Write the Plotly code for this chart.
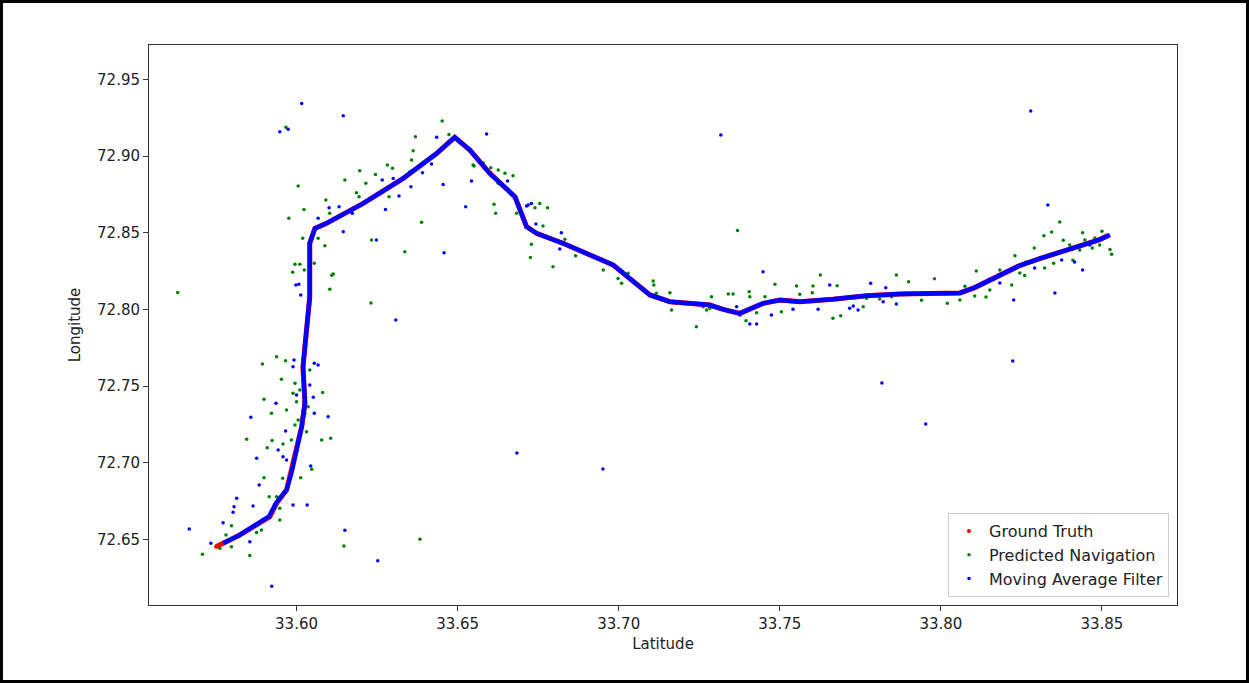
import plotly.graph_objects as go

# ---------------- data (lat, lon) ----------------
gt_lat = [33.5750, 33.5824, 33.5917, 33.5938, 33.5969, 33.5984, 33.6000, 33.6016, 33.6026, 33.6022,
          33.6020, 33.6025, 33.6041, 33.6041, 33.6057, 33.6093, 33.6207, 33.6331, 33.6435, 33.6491,
          33.6538, 33.6600, 33.6678, 33.6714, 33.6745, 33.6827, 33.6983, 33.7097, 33.7159, 33.7283,
          33.7324, 33.7376, 33.7448, 33.7500, 33.7562, 33.7665, 33.7769, 33.7873, 33.8059, 33.8105,
          33.8152, 33.8198, 33.8245, 33.8307, 33.8369, 33.8431, 33.8493, 33.8518]
gt_lon = [72.6452, 72.6529, 72.6648, 72.6735, 72.6822, 72.6953, 72.7083, 72.7235, 72.7389, 72.7496,
          72.7626, 72.7735, 72.8082, 72.8431, 72.8528, 72.8561, 72.8691, 72.8854, 72.9017, 72.9122,
          72.9039, 72.8887, 72.8734, 72.8539, 72.8496, 72.8431, 72.8289, 72.8094, 72.8050, 72.8028,
          72.8000, 72.7974, 72.8039, 72.8061, 72.8050, 72.8066, 72.8089, 72.8100, 72.8107, 72.8142,
          72.8188, 72.8240, 72.8286, 72.8331, 72.8370, 72.8410, 72.8455, 72.8481]

ma_path_lat = [33.5772, 33.5824, 33.5915, 33.5936, 33.5969, 33.5986, 33.6000, 33.6016, 33.6026, 33.6022,
               33.6020, 33.6025, 33.6041, 33.6041, 33.6057, 33.6093, 33.6207, 33.6331, 33.6435, 33.6491,
               33.6538, 33.6600, 33.6678, 33.6714, 33.6745, 33.6827, 33.6983, 33.7097, 33.7159, 33.7283,
               33.7324, 33.7376, 33.7448, 33.7500, 33.7562, 33.7665, 33.7769, 33.7873, 33.8059, 33.8105,
               33.8152, 33.8198, 33.8245, 33.8307, 33.8369, 33.8431, 33.8493, 33.8525]
ma_path_lon = [72.6475, 72.6529, 72.6650, 72.6735, 72.6822, 72.6950, 72.7083, 72.7235, 72.7389, 72.7496,
               72.7626, 72.7735, 72.8082, 72.8431, 72.8528, 72.8561, 72.8691, 72.8854, 72.9017, 72.9122,
               72.9039, 72.8887, 72.8734, 72.8539, 72.8496, 72.8431, 72.8289, 72.8094, 72.8050, 72.8028,
               72.8000, 72.7974, 72.8039, 72.8061, 72.8050, 72.8066, 72.8089, 72.8100, 72.8107, 72.8142,
               72.8188, 72.8240, 72.8286, 72.8331, 72.8370, 72.8410, 72.8455, 72.8485]

pred_lat = [33.5938, 33.5894, 33.5966, 33.5953, 33.5899, 33.5995, 33.5989, 33.6000, 33.5969, 33.5922,
            33.5845, 33.5909, 33.5924, 33.6078, 33.6106, 33.6081, 33.6041, 33.6031, 33.5899, 33.5957,
            33.6013, 33.6047, 33.5915, 33.5948, 33.5798, 33.5876, 33.5708, 33.5855, 33.5762, 33.5798,
            33.5781, 33.5891, 33.5938, 33.5948, 33.5984, 33.5995, 33.5958, 33.6005, 33.6026, 33.6036,
            33.6010, 33.5967, 33.6452, 33.6369, 33.6473, 33.6362, 33.6196, 33.6150, 33.6282, 33.6298,
            33.6005, 33.6023, 33.5976, 33.6091, 33.6215, 33.6245, 33.6186, 33.6194, 33.6287, 33.6388,
            33.6233, 33.6336, 33.6088, 33.6103, 33.6019, 33.6067, 33.5995, 33.6010, 33.5988, 33.6024,
            33.6055, 33.6114, 33.6103, 33.6109, 33.6551, 33.6579, 33.6603, 33.6626, 33.6647, 33.6672,
            33.6626, 33.6613, 33.6618, 33.6683, 33.6357, 33.6352, 33.6740, 33.6755, 33.6779, 33.6765,
            33.6729, 33.6726, 33.6796, 33.6833, 33.6866, 33.6952, 33.6998, 33.7009, 33.7029, 33.7107,
            33.7109, 33.7117, 33.7159, 33.7164, 33.7241, 33.7288, 33.7340, 33.7355, 33.7369, 33.7405,
            33.7407, 33.7395, 33.7428, 33.7454, 33.7485, 33.7505, 33.7552, 33.7562, 33.7601, 33.7603,
            33.7626, 33.7678, 33.7665, 33.7689, 33.7810, 33.7847, 33.7862, 33.7273, 33.7262, 33.7283,
            33.7759, 33.7769, 33.6548, 33.5631, 33.6231, 33.6147, 33.6383,
            33.7900, 33.7940, 33.7980, 33.8020, 33.8075, 33.8110, 33.8140, 33.8180, 33.8230, 33.8260,
            33.8290, 33.8320, 33.8350, 33.8380, 33.8410, 33.8440, 33.8470, 33.8500, 33.8525, 33.8530,
            33.8059, 33.8105, 33.8152, 33.8183, 33.8220, 33.8245, 33.8264, 33.8307, 33.8322, 33.8344,
            33.8369, 33.8400, 33.8431, 33.8447, 33.8478, 33.8493]
pred_lon = [72.7691, 72.7644, 72.7665, 72.7544, 72.7413, 72.7518, 72.7453, 72.7398, 72.7344, 72.7322,
            72.7153, 72.7098, 72.7144, 72.7148, 72.7159, 72.7457, 72.7605, 72.7202, 72.6902, 72.6898,
            72.6902, 72.6957, 72.6778, 72.6627, 72.6589, 72.6544, 72.6403, 72.6394, 72.6442, 72.6452,
            72.6529, 72.6561, 72.6778, 72.6703, 72.7148, 72.7246, 72.7122, 72.7279, 72.7322, 72.7365,
            72.7474, 72.9187, 72.9228, 72.9126, 72.9141, 72.9034, 72.8904, 72.8843, 72.8941, 72.8920,
            72.8804, 72.8652, 72.8594, 72.8713, 72.8822, 72.8880, 72.8761, 72.8735, 72.8735, 72.8568,
            72.8452, 72.8376, 72.8415, 72.8626, 72.8463, 72.8463, 72.8294, 72.8294, 72.8242, 72.8257,
            72.8300, 72.8230, 72.8131, 72.8222, 72.8935, 72.8956, 72.8924, 72.8909, 72.8887, 72.8871,
            72.8822, 72.8685, 72.8626, 72.8626, 72.8974, 72.8897, 72.8663, 72.8691, 72.8663, 72.8543,
            72.8424, 72.8339, 72.8278, 72.8457, 72.8350, 72.8257, 72.8202, 72.8170, 72.8235, 72.8185,
            72.8159, 72.8105, 72.8109, 72.7996, 72.7887, 72.8082, 72.8100, 72.8100, 72.8515, 72.8115,
            72.8082, 72.7926, 72.7978, 72.8082, 72.8163, 72.7985, 72.8152, 72.8098, 72.8109, 72.8152,
            72.8224, 72.8154, 72.7942, 72.7959, 72.8067, 72.8082, 72.8224, 72.7996, 72.8017, 72.8007,
            72.8017, 72.8072, 72.8941, 72.8110, 72.8041, 72.6457, 72.6500,
            72.8180, 72.8060, 72.8200, 72.8040, 72.8150, 72.8250, 72.8080, 72.8220, 72.8350, 72.8220,
            72.8400, 72.8480, 72.8300, 72.8450, 72.8320, 72.8500, 72.8400, 72.8510, 72.8390, 72.8360,
            72.8061, 72.8087, 72.8126, 72.8257, 72.8159, 72.8237, 72.8309, 72.8335, 72.8270, 72.8504,
            72.8570, 72.8420, 72.8387, 72.8452, 72.8465, 72.8420]

ma_lat = [33.5667, 33.5923, 33.5858, 33.5876, 33.5884, 33.5814, 33.5806, 33.5803, 33.5772, 33.5734,
          33.5855, 33.5865, 33.5989, 33.6033, 33.6098, 33.6044, 33.5936, 33.5966, 33.5943, 33.5958,
          33.5969, 33.5992, 33.6055, 33.6067, 33.6041, 33.6052, 33.6055, 33.6000, 33.5989, 33.6016,
          33.6145, 33.5948, 33.5974, 33.6590, 33.6455, 33.6543, 33.6525, 33.6276, 33.6145, 33.6248,
          33.6458, 33.6318, 33.6355, 33.6391, 33.6419, 33.6435, 33.6132, 33.6101, 33.6067, 33.6173,
          33.6266, 33.6300, 33.5998, 33.6007, 33.6013, 33.6714, 33.6655, 33.6683, 33.6719, 33.6729,
          33.6743, 33.6822, 33.6817, 33.7448, 33.7474, 33.7407, 33.7428, 33.7541, 33.7619, 33.7655,
          33.7782, 33.7829, 33.7717, 33.7743, 33.7728, 33.7862, 33.7821, 33.7366, 33.7376, 33.7317,
          33.6951, 33.6684, 33.8279, 33.8332, 33.7817, 33.7953, 33.8223, 33.8354,
          33.6308, 33.6150, 33.6252,
          33.8183, 33.8226, 33.8291, 33.8375, 33.8415, 33.8440, 33.8462]
ma_lon = [72.6568, 72.6194, 72.7296, 72.7029, 72.6855, 72.6768, 72.6713, 72.6677, 72.6609, 72.6475,
          72.6485, 72.6718, 72.6724, 72.6724, 72.7300, 72.6979, 72.7387, 72.7207, 72.7083, 72.7039,
          72.7018, 72.7670, 72.7648, 72.7637, 72.7507, 72.7427, 72.7322, 72.7442, 72.7626, 72.9343,
          72.9263, 72.9158, 72.9174, 72.9143, 72.8815, 72.8837, 72.8669, 72.8652, 72.8506, 72.8452,
          72.8369, 72.8739, 72.8800, 72.8891, 72.8948, 72.9122, 72.8669, 72.8663, 72.8594, 72.8626,
          72.8843, 72.8854, 72.8159, 72.8163, 72.8094, 72.8674, 72.8837, 72.8695, 72.8680, 72.8691,
          72.8556, 72.8500, 72.8393, 72.8245, 72.7963, 72.7904, 72.7904, 72.8000, 72.8000, 72.8159,
          72.8170, 72.8141, 72.8007, 72.7996, 72.8022, 72.8035, 72.8050, 72.8017, 72.7963, 72.9137,
          72.6959, 72.7063, 72.9293, 72.8680, 72.7520, 72.7253, 72.7664, 72.8107,
          72.7931, 72.6560, 72.6360,
          72.8172, 72.8061, 72.8270, 72.8322, 72.8309, 72.8257, 72.8420]

x_ticks = [33.60, 33.65, 33.70, 33.75, 33.80, 33.85]
x_labels = ["33.60", "33.65", "33.70", "33.75", "33.80", "33.85"]
y_ticks = [72.65, 72.70, 72.75, 72.80, 72.85, 72.90, 72.95]
y_labels = ["72.65", "72.70", "72.75", "72.80", "72.85", "72.90", "72.95"]

RED, GREEN, BLUE = "#ff0000", "#008000", "#0000ff"
FONT = "DejaVu Sans"

fig = go.Figure()
fig.add_trace(go.Scatter(x=gt_lat, y=gt_lon, mode="lines", line=dict(color=RED, width=5),
                         showlegend=False, hoverinfo="skip"))
fig.add_trace(go.Scatter(x=gt_lat, y=gt_lon, mode="markers", name="Ground Truth",
                         marker=dict(color=RED, size=4), legendgroup="a"))
fig.add_trace(go.Scatter(x=pred_lat, y=pred_lon, mode="markers", name="Predicted Navigation",
                         marker=dict(color=GREEN, size=3.5), legendgroup="b"))
fig.add_trace(go.Scatter(x=ma_path_lat, y=ma_path_lon, mode="lines", line=dict(color=BLUE, width=4.5),
                         showlegend=False, hoverinfo="skip"))
fig.add_trace(go.Scatter(x=ma_lat, y=ma_lon, mode="markers", name="Moving Average Filter",
                         marker=dict(color=BLUE, size=3.5), legendgroup="c"))

L, R, T, B = 149, 72, 45, 78
W, H = 1249, 683
pw, ph = W - L - R, H - T - B
fig.add_shape(type="rect", xref="paper", yref="paper",
              x0=(1.5 - L) / pw, x1=(W - 1.5 - L) / pw,
              y0=(H - B - (H - 1.5)) / ph, y1=(H - B - 1.5) / ph,
              line=dict(color="black", width=3), fillcolor="rgba(0,0,0,0)", layer="above")

axis_common = dict(showgrid=False, zeroline=False, showline=True, mirror=True,
                   linecolor="#333333", linewidth=1, ticks="outside", ticklen=5,
                   tickcolor="#333333", tickfont=dict(family=FONT, size=15, color="#222222"))
fig.update_xaxes(range=[33.5542, 33.8733], tickvals=x_ticks, ticktext=x_labels,
                 title=dict(text="Latitude", font=dict(family=FONT, size=15, color="#222222"), standoff=6),
                 **axis_common)
fig.update_yaxes(range=[72.6072, 72.9724], tickvals=y_ticks, ticktext=y_labels,
                 title=dict(text="Longitude", font=dict(family=FONT, size=15, color="#222222"), standoff=12),
                 **axis_common)
fig.update_layout(width=W, height=H, margin=dict(l=L, r=R, t=T, b=B, autoexpand=False),
                  paper_bgcolor="white", plot_bgcolor="white",
                  font=dict(family=FONT, size=15, color="#222222"),
                  legend=dict(x=(1169 - L) / pw, y=(605 - 597) / ph, xanchor="right", yanchor="bottom",
                              bgcolor="white", bordercolor="#cccccc", borderwidth=1,
                              font=dict(family=FONT, size=16, color="#222222"),
                              tracegroupgap=0, traceorder="grouped"),
                  showlegend=True)
fig.write_html("out.html", config={"displayModeBar": False},
               post_script="document.body.style.margin='0px';document.body.style.overflow='hidden';")
